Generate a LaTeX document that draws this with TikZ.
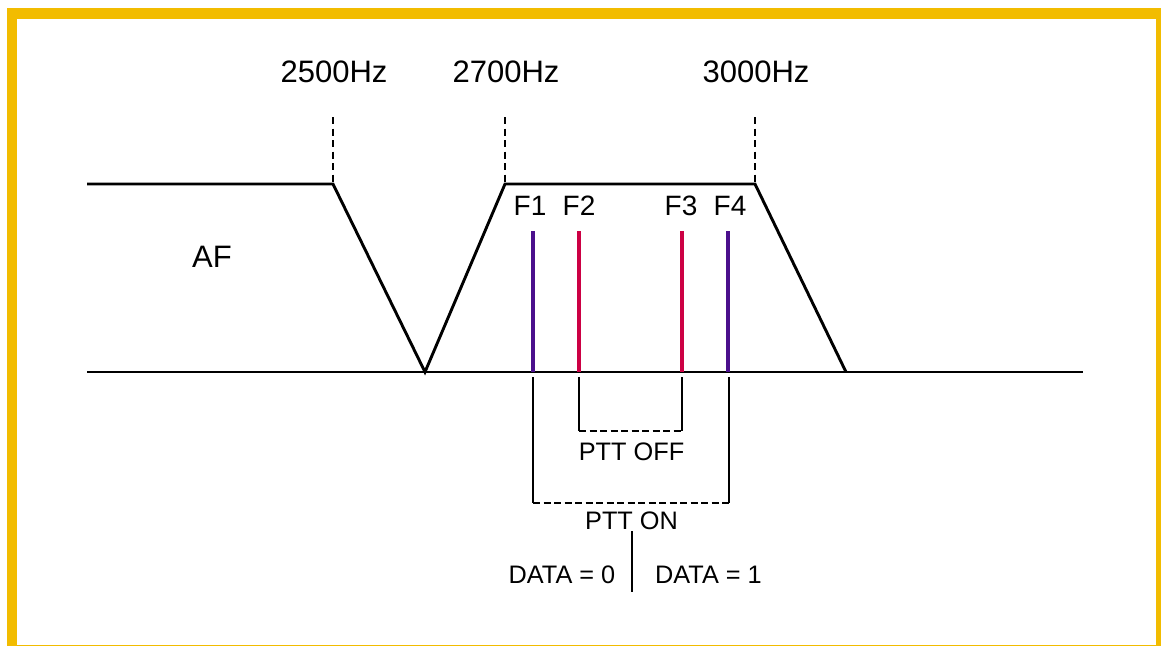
\documentclass[tikz,border=0pt]{standalone}
\usepackage{fontspec}
\setmainfont{Liberation Sans}
\definecolor{frameyellow}{RGB}{242,188,0}
\definecolor{fpurple}{RGB}{75,16,140}
\definecolor{fred}{RGB}{204,0,68}
\tikzset{
  curve/.style={line width=2.9pt, black, line join=miter},
  guide/.style={line width=2.8pt, black, dash pattern=on 7pt off 4.5pt},
  bracketside/.style={line width=2.6pt, black},
  bracketdash/.style={line width=2.6pt, black, dash pattern=on 7pt off 3.5pt},
  tonepurple/.style={line width=4.8pt, fpurple},
  tonered/.style={line width=4.8pt, fred},
  hzlabel/.style={anchor=base, inner sep=0pt, font=\fontsize{31}{31}\selectfont},
  flabel/.style={anchor=base, inner sep=0pt, font=\fontsize{28}{28}\selectfont},
  smalllabel/.style={anchor=base, inner sep=0pt, font=\fontsize{25.3}{25.3}\selectfont}
}
\begin{document}
\begin{tikzpicture}[x=1pt,y=-1pt]
\useasboundingbox (0,0) rectangle (1161,645);
% frame
\fill[frameyellow] (7,8) rectangle (1175,660);
\fill[white] (17,18.5) rectangle (1156,644.5);

% response curve coordinates
\coordinate (L0) at (87,184);
\coordinate (K1) at (333,184);
\coordinate (V) at (425,372);
\coordinate (K2) at (505,184);
\coordinate (K3) at (755,184);
\coordinate (R0) at (846,372);
\coordinate (B0) at (87,372);
\coordinate (B1) at (1083,372);
\coordinate (G1) at (333,117);
\coordinate (G2) at (505,117);
\coordinate (G3) at (755,117);

\draw[curve] (B0) -- (B1);
\draw[curve] (L0) -- (K1) -- (V) -- (K2) -- (K3) -- (R0);
\draw[guide] (G1) -- (K1);
\draw[guide] (G2) -- (K2);
\draw[guide] (G3) -- (K3);

\node[hzlabel] (h1) at (334,82) {2500Hz};
\node[hzlabel] (h2) at (506,82) {2700Hz};
\node[hzlabel] (h3) at (756,82) {3000Hz};
\node[hzlabel] (af) at (212,267) {AF};

% tones
\coordinate (F1t) at (533,231); \coordinate (F1b) at (533,372);
\coordinate (F2t) at (579,231); \coordinate (F2b) at (579,372);
\coordinate (F3t) at (682,231); \coordinate (F3b) at (682,372);
\coordinate (F4t) at (728,231); \coordinate (F4b) at (728,372);
\draw[tonepurple] (F1t) -- (F1b);
\draw[tonered] (F2t) -- (F2b);
\draw[tonered] (F3t) -- (F3b);
\draw[tonepurple] (F4t) -- (F4b);

\node[flabel] (f1) at (530,215) {F1};
\node[flabel] (f2) at (579,215) {F2};
\node[flabel] (f3) at (681,215) {F3};
\node[flabel] (f4) at (730,215) {F4};

% PTT OFF bracket
\coordinate (o1) at (579,377); \coordinate (o2) at (579,431);
\coordinate (o3) at (682,431); \coordinate (o4) at (682,377);
\draw[bracketside] (o1) -- (o2);
\draw[bracketside] (o4) -- (o3);
\draw[bracketdash] (o2) -- (o3);
\node[smalllabel] (pttoff) at (631.5,460.5) {PTT OFF};

% PTT ON bracket
\coordinate (n1) at (533,377); \coordinate (n2) at (533,503);
\coordinate (n3) at (729,503); \coordinate (n4) at (729,377);
\draw[bracketside] (n1) -- (n2);
\draw[bracketside] (n4) -- (n3);
\draw[bracketdash] (n2) -- (n3);
\node[smalllabel] (ptton) at (631.5,529) {PTT ON};

% data divider
\coordinate (d1) at (632,531); \coordinate (d2) at (632,592);
\draw[bracketside] (d1) -- (d2);
\node[smalllabel] (data0) at (562,583) {DATA = 0};
\node[smalllabel] (data1) at (708.5,583) {DATA = 1};
\end{tikzpicture}
\end{document}
